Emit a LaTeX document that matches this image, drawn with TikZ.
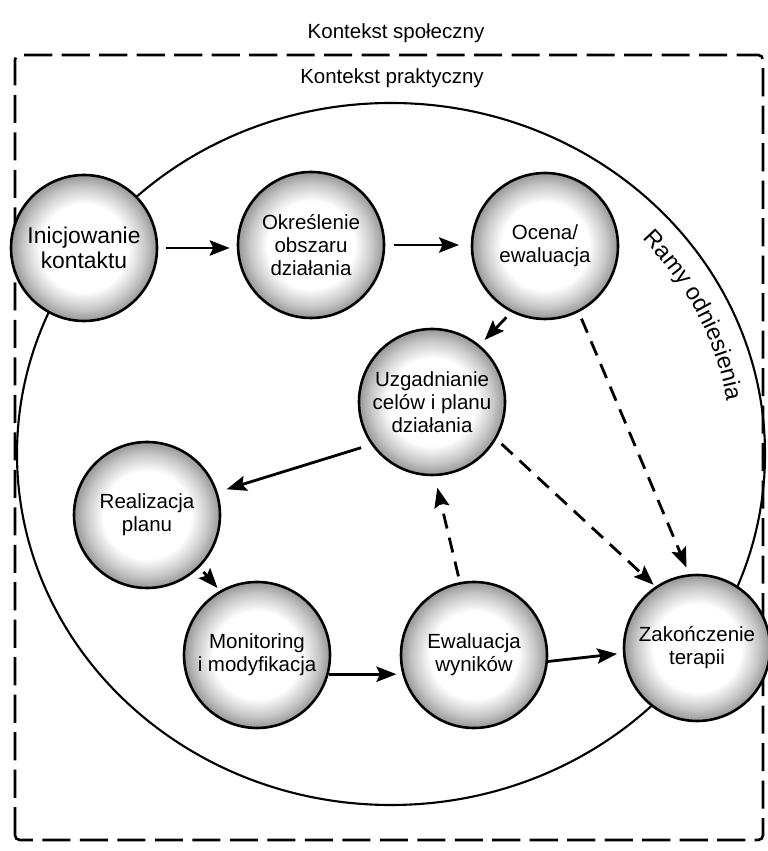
\documentclass[tikz,border=0pt]{standalone}
\usepackage{fontspec}
\setmainfont{Liberation Sans}
\usetikzlibrary{arrows.meta,decorations.text}
\pgfdeclareradialshading{kula}{\pgfpoint{0bp}{0bp}}{color(0bp)=(white); color(15bp)=(white); color(21bp)=(black!22); color(26.5bp)=(black!48); color(31bp)=(black!72); color(35.4bp)=(black!92); color(50bp)=(black)}
\newcommand{\ramyfont}{\fontsize{20}{24}\selectfont}
\tikzset{
  kolo/.style={circle, draw, line width=2.2pt, shade, shading=kula, minimum size=4.38cm, inner sep=0pt, align=center, font=\fontsize{17.5}{19.5}\selectfont},
  strz/.style={line width=2.4pt, -{Stealth[length=17pt, width=13pt, inset=3pt]}},
  przer/.style={strz, dash pattern=on 13pt off 8pt},
  ramka/.style={line width=2.2pt, dash pattern=on 24pt off 8pt, rounded corners=4pt},
  naglowek/.style={font=\fontsize{17.5}{21}\selectfont, anchor=base}
}
\begin{document}
\begin{tikzpicture}[x=0.03cm, y=0.03cm]
\useasboundingbox (0,0) rectangle (768,851);
\draw[ramka] (15,11) rectangle (763,796);
\node[naglowek] (spol) at (396,812) {Kontekst społeczny};
\node[naglowek] (prakt) at (392,767) {Kontekst praktyczny};
\coordinate (srodek) at (391,397);
\draw[line width=1.8pt] (srodek) ellipse [x radius=374, y radius=351];
\path[decorate, decoration={text along path, text align=center, text={|\ramyfont|Ramy odniesienia}}]
  (srodek) ++(46:341 and 318) arc[start angle=46, end angle=6, x radius=341, y radius=318];

\node[kolo, font=\fontsize{19.5}{21}\selectfont] (ini) at (84,603) {Inicjowanie\\kontaktu};
\node[kolo] (okr) at (311,606) {Określenie\\obszaru\\działania};
\node[kolo] (oce) at (545,605) {Ocena/\\ewaluacja};
\node[kolo] (uzg) at (432,449) {Uzgadnianie\\celów i planu\\działania};
\node[kolo] (rea) at (147,336) {Realizacja\\planu};
\node[kolo] (mon) at (257,196) {Monitoring\\i modyfikacja};
\node[kolo] (ewa) at (474,196) {Ewaluacja\\wyników};
\node[kolo] (zak) at (697,203) {Zakończenie\\terapii};

\draw[strz, shorten <=7pt, shorten >=6pt] (ini.east) -- (ini.east -| okr.west);
\draw[strz, shorten <=7pt, shorten >=10pt] (okr.east) -- (okr.east -| oce.west);
\draw[strz, shorten <=6pt, shorten >=6pt] (oce.243) -- (uzg.50);
\draw[przer, shorten <=6pt, shorten >=6pt] (oce.297) -- (zak.96);
\draw[strz, shorten <=9pt, shorten >=8pt] (uzg.215) -- (rea.18);
\draw[strz, shorten <=5pt, shorten >=3pt] (rea.-45) -- (mon.120);
\draw[strz, shorten >=5pt] (mon.-15) -- (ewa.195);
\draw[strz, shorten >=5pt] (ewa.-5) -- (zak.184);
\draw[przer, shorten <=5pt, shorten >=10pt] (ewa.101) -- (uzg.272);
\draw[przer, shorten <=6pt, shorten >=2pt] (uzg.-30) -- (zak.124);
\end{tikzpicture}
\end{document}
